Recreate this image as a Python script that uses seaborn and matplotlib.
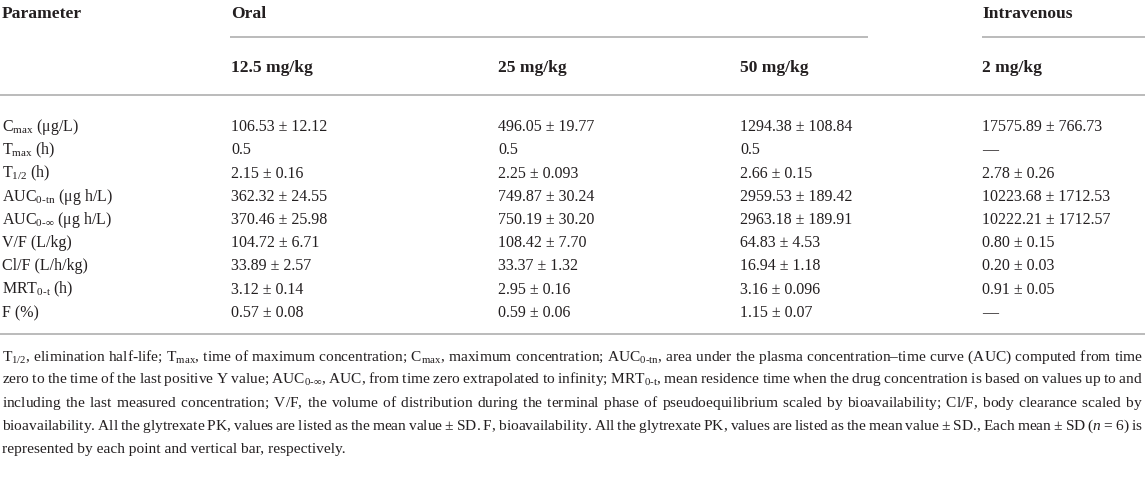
import matplotlib
matplotlib.use("Agg")
import matplotlib.pyplot as plt
import seaborn as sns

sns.set_theme(style="white")
plt.rcParams['font.family'] = ['Liberation Serif', 'DejaVu Serif']
plt.rcParams['mathtext.fontset'] = 'custom'
plt.rcParams['mathtext.rm'] = 'Liberation Serif'
plt.rcParams['mathtext.it'] = 'Liberation Serif:italic'
plt.rcParams['mathtext.bf'] = 'Liberation Serif:bold'

# ---------------- data ----------------
col_header = "Parameter"
groups = ["Oral", "Intravenous"]
doses = ["12.5 mg/kg", "25 mg/kg", "50 mg/kg", "2 mg/kg"]
parameters = [
    r"C$_{\mathrm{max}}$ (μg/L)",
    r"T$_{\mathrm{max}}$ (h)",
    r"T$_{\mathrm{1/2}}$ (h)",
    r"AUC$_{\text{0-tn}}$ (μg h/L)",
    r"AUC$_{\text{0-}\infty}$ (μg h/L)",
    "V/F (L/kg)",
    "Cl/F (L/h/kg)",
    r"MRT$_{\text{0-t}}$ (h)",
    "F (%)",
]
oral_12_5 = ["106.53 ± 12.12", "0.5", "2.15 ± 0.16", "362.32 ± 24.55", "370.46 ± 25.98",
             "104.72 ± 6.71", "33.89 ± 2.57", "3.12 ± 0.14", "0.57 ± 0.08"]
oral_25 = ["496.05 ± 19.77", "0.5", "2.25 ± 0.093", "749.87 ± 30.24", "750.19 ± 30.20",
           "108.42 ± 7.70", "33.37 ± 1.32", "2.95 ± 0.16", "0.59 ± 0.06"]
oral_50 = ["1294.38 ± 108.84", "0.5", "2.66 ± 0.15", "2959.53 ± 189.42", "2963.18 ± 189.91",
           "64.83 ± 4.53", "16.94 ± 1.18", "3.16 ± 0.096", "1.15 ± 0.07"]
iv_2 = ["17575.89 ± 766.73", "—", "2.78 ± 0.26", "10223.68 ± 1712.53", "10222.21 ± 1712.57",
        "0.80 ± 0.15", "0.20 ± 0.03", "0.91 ± 0.05", "—"]
footnote_lines = [
    r"T$_{\mathrm{1/2}}$, elimination half-life; T$_{\mathrm{max}}$, time of maximum concentration; C$_{\mathrm{max}}$, maximum concentration; AUC$_{\text{0-tn}}$, area under the plasma concentration–time curve (AUC) computed from time",
    r"zero to the time of the last positive Y value; AUC$_{\text{0-}\infty}$, AUC, from time zero extrapolated to infinity; MRT$_{\text{0-t}}$, mean residence time when the drug concentration is based on values up to and",
    "including the last measured concentration; V/F, the volume of distribution during the terminal phase of pseudoequilibrium scaled by bioavailability; Cl/F, body clearance scaled by",
    r"bioavailability. All the glytrexate PK, values are listed as the mean value ± SD. F, bioavailability. All the glytrexate PK, values are listed as the mean value ± SD., Each mean ± SD ($\mathit{n}$ = 6) is",
    "represented by each point and vertical bar, respectively.",
]

# ---------------- layout ----------------
W, H = 1145, 495
fig = plt.figure(figsize=(W / 100, H / 100), dpi=100)
ax = fig.add_axes([0, 0, 1, 1])
ax.set_xlim(0, W)
ax.set_ylim(H, 0)
ax.axis("off")

txt_color = "#231f20"
line_color = "#a8a8a8"
fs_head = 12.6
fs_body = 11.5
fs_foot = 11.1

col_x = [231, 498, 740, 982]
x_param = 2

# headers (baseline aligned)
hb1, hb2 = 18.5, 71.5
ax.text(x_param, hb1, col_header, fontsize=fs_head, fontweight="bold", color=txt_color, va="baseline")
ax.text(col_x[0], hb1, groups[0], fontsize=fs_head, fontweight="bold", color=txt_color, va="baseline")
ax.text(col_x[3], hb1, groups[1], fontsize=fs_head, fontweight="bold", color=txt_color, va="baseline")
ax.plot([230, 868], [37, 37], color=line_color, lw=1.1, solid_capstyle="butt")
ax.plot([982, W], [37, 37], color=line_color, lw=1.1, solid_capstyle="butt")
for x, d in zip(col_x, doses):
    ax.text(x, hb2, d, fontsize=fs_head, fontweight="bold", color=txt_color, va="baseline")
ax.plot([0, W], [95, 95], color=line_color, lw=1.1, solid_capstyle="butt")

# body rows
row_b0, row_dy = 131, 23.25
columns = [oral_12_5, oral_25, oral_50, iv_2]
for i, p in enumerate(parameters):
    y = row_b0 + i * row_dy
    ax.text(x_param, y, p, fontsize=fs_body, color=txt_color, va="baseline")
    for x, col in zip(col_x, columns):
        ax.text(x, y, col[i], fontsize=fs_body, color=txt_color, va="baseline")
ax.plot([0, W], [334, 334], color=line_color, lw=1.1, solid_capstyle="butt")

# footnote: justified lines, each one single text object with
# mathtext \hspace gaps so all glyphs share one baseline
fig.canvas.draw()
renderer = fig.canvas.get_renderer()


def text_width(s):
    t = ax.text(0, 0, s, fontsize=fs_foot)
    w = t.get_window_extent(renderer).width
    t.remove()
    return w


em_px = text_width(r"a$\hspace{4}$a") - text_width(r"a$\hspace{2}$a")
em_px /= 2.0

foot_b0, foot_dy = 360.5, 23
x_left, x_right = 2, 1143
for li, line in enumerate(footnote_lines):
    y = foot_b0 + li * foot_dy
    words = line.split(" ")
    merged = []
    buf = ""
    for w in words:
        buf = w if not buf else buf + " " + w
        if buf.count("$") % 2 == 0:
            merged.append(buf)
            buf = ""
    if buf:
        merged.append(buf)
    last = li == len(footnote_lines) - 1
    if last:
        ax.text(x_left, y, line, fontsize=fs_foot, color=txt_color, va="baseline")
        continue
    tight = r"$\hspace{0}$".join(merged)
    w0 = text_width(tight)
    gap_em = (x_right - x_left - w0) / (len(merged) - 1) / em_px
    s = (r"$\hspace{%.4f}$" % gap_em).join(merged)
    ax.text(x_left, y, s, fontsize=fs_foot, color=txt_color, va="baseline")

fig.savefig("out.png", dpi=100, facecolor="white")
